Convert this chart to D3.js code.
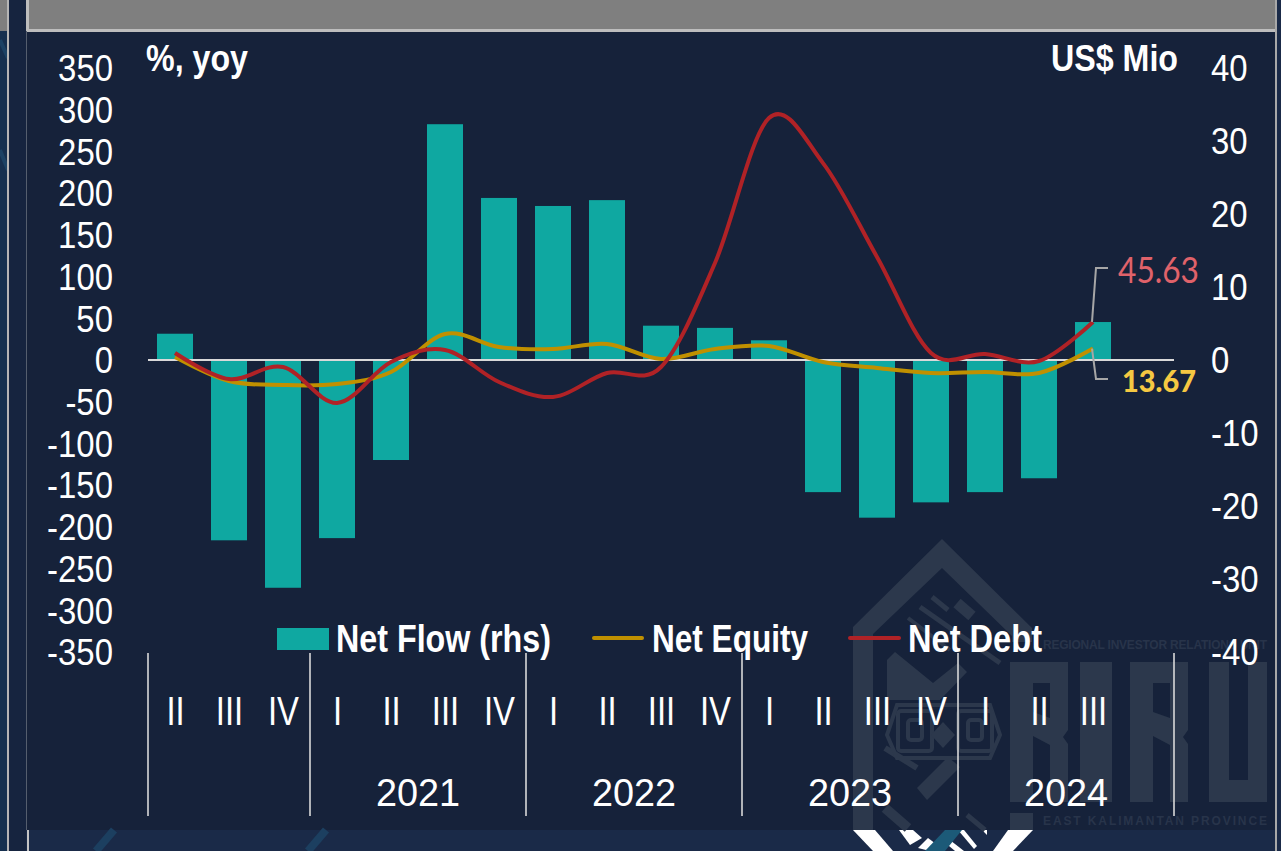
<!DOCTYPE html>
<html>
<head>
<meta charset="utf-8">
<script src="https://cdn.jsdelivr.net/npm/d3@7"></script>
<style>
html,body{margin:0;padding:0;background:#1a2a48;overflow:hidden}
svg{display:block}
text{font-family:"Liberation Sans",Arial,sans-serif;fill:#fff}
</style>
</head>
<body>
<svg id="c" width="1281" height="851"></svg>
<script>
const categories = ["II","III","IV","I","II","III","IV","I","II","III","IV","I","II","III","IV","I","II","III"];
const years = ["2021","2022","2023","2024"];
const yearEnds = [3,7,11,15,19];
const netFlow = [3.6,-24.7,-31.2,-24.4,-13.7,32.3,22.2,21.1,21.9,4.7,4.4,2.7,-18.1,-21.6,-19.5,-18.1,-16.2,5.2];
const netEquity = [3.6,-25.2,-30,-28.8,-14.4,31.2,15.6,13.2,19.2,1.2,13.2,16.8,-2.4,-9.6,-15.6,-14.4,-15.6,13.67];
const netDebt = [8.4,-22.8,-8.4,-51.5,-2.4,12,-26.4,-44.3,-15.6,-8.4,116.3,290,236,123.5,8.4,7.2,-1.2,45.63];
const leftTicks = [350,300,250,200,150,100,50,0,-50,-100,-150,-200,-250,-300,-350];
const rightTicks = [40,30,20,10,0,-10,-20,-30,-40];
const legendItems = ["Net Flow (rhs)","Net Equity","Net Debt"];

const svg = d3.select("#c");
function fit(sel, factor){
  sel.each(function(){
    const t = d3.select(this);
    t.attr("textLength", this.getComputedTextLength()*factor).attr("lengthAdjust","spacingAndGlyphs");
  });
  return sel;
}
function txt(g,x,y,s,size,weight,color,target,anchor){
  const t = g.append("text").attr("x",x).attr("y",y).text(s)
    .style("font-size",size+"px").style("font-weight",weight).style("fill",color)
    .attr("text-anchor",anchor||"start");
  if(target) t.attr("textLength",target).attr("lengthAdjust","spacingAndGlyphs");
  return t;
}

/* page frame */
const bg = svg.append("g");
bg.append("rect").attr("width",1281).attr("height",851).attr("fill","#1a2a48");
bg.append("rect").attr("x",0).attr("y",31).attr("width",8).attr("height",820).attr("fill","#16304f");
[[0,40,8,58],[0,150,8,170]].forEach(d=>bg.append("line").attr("x1",d[0]).attr("y1",d[1]).attr("x2",d[2]).attr("y2",d[3]).attr("stroke","#1c4264").attr("stroke-width",4));
bg.append("rect").attr("x",0).attr("y",0).attr("width",8).attr("height",31).attr("fill","#7f7f7f");
bg.append("rect").attr("x",7).attr("y",0).attr("width",2).attr("height",851).attr("fill","#b5b5b5");
bg.append("rect").attr("x",9).attr("y",0).attr("width",17).attr("height",851).attr("fill","#16243f");
bg.append("rect").attr("x",27).attr("y",31).attr("width",1248).attr("height",799).attr("fill","#16223a");
bg.append("rect").attr("x",26).attr("y",31).attr("width",1).attr("height",799).attr("fill","#555e6e");
bg.append("rect").attr("x",29).attr("y",0).attr("width",1246).attr("height",30).attr("fill","#7f7f7f");
bg.append("rect").attr("x",26).attr("y",0).attr("width",3).attr("height",31).attr("fill","#bdbdbd");
bg.append("rect").attr("x",27).attr("y",29).attr("width",1250).attr("height",3).attr("fill","#bdbdbd");
bg.append("rect").attr("x",1275).attr("y",0).attr("width",2).attr("height",851).attr("fill","#a8a8a8");
bg.append("rect").attr("x",27).attr("y",830).attr("width",2).attr("height",21).attr("fill","#c4c4c4");
[[96,851,114,830],[308,851,326,830]].forEach(d=>bg.append("line").attr("x1",d[0]).attr("y1",d[1]).attr("x2",d[2]).attr("y2",d[3]).attr("stroke","#1c3f60").attr("stroke-width",8));

/* white emblem fragment below the panel */
const emblem = bg.append("g").attr("fill","#fff");
bg.append("polygon").attr("points","925,851 945,830 962,830 945,851").attr("fill","#1c5a78");
["853,830 875,830 893,851 873,851","1033,830 1008,830 993,851 1013,851",
 "899,830 913,830 922,838 910,845","918,848 928,838 936,844 930,851",
 "942,840 946,837 964,851 955,851","958,830 964,830 977,846 974,849","982,830 987,830 987,835"]
 .forEach(p=>emblem.append("polygon").attr("points",p));

/* watermark */
const wm = svg.append("g");
const wc = "#2c384c";
wm.append("path").attr("fill",wc)
  .attr("d","M942,539 L1032,628 L1032,642 L1012,642 L1012,636 L942,568 L873,634 L873,830 L853,830 L853,627 Z");
wm.append("rect").attr("x",1010).attr("y",813).attr("width",23).attr("height",17).attr("fill",wc);
wm.append("polygon").attr("fill",wc).attr("points","887,660 895,652 933,683 958,663 967,672 940,700 887,700");
[[932,597,948,610,5],[920,607,1000,663,5],[908,618,950,650,4],[957,603,972,616,11],[885,808,908,828,10],[967,815,985,830,5],[885,748,917,768,6]]
 .forEach(d=>wm.append("line").attr("x1",d[0]).attr("y1",d[1]).attr("x2",d[2]).attr("y2",d[3]).attr("stroke",wc).attr("stroke-width",d[4]));
wm.append("polygon").attr("fill",wc).attr("points","917,788 927,800 960,767 948,757");
const orn = wm.append("g").attr("fill","none").attr("stroke",wc).attr("stroke-width",4);
orn.append("polygon").attr("points","887,735 897,705 990,705 1000,735 990,758 897,758");
[[898,711,34,40],[958,711,34,40],[908,720,14,20],[968,720,14,20]].forEach(d=>
  orn.append("rect").attr("x",d[0]).attr("y",d[1]).attr("width",d[2]).attr("height",d[3]).attr("rx",3));
wm.append("polygon").attr("fill",wc).attr("points","943,722 955,735 943,748 931,735");
const rGlyph = x0 => `M${x0},662 H${x0+58} V730 L${x0+53},737 L${x0+58},744 V802 H${x0+40} V745 L${x0+23},736 V802 H${x0} Z M${x0+23},683 V712 L${x0+40},718 V683 Z`;
wm.append("path").attr("fill",wc).attr("fill-rule","evenodd").attr("d",rGlyph(1010));
wm.append("path").attr("fill",wc).attr("fill-rule","evenodd").attr("d",rGlyph(1130));
wm.append("rect").attr("x",1080).attr("y",662).attr("width",32).attr("height",140).attr("fill",wc);
wm.append("path").attr("fill",wc).attr("d","M1209,662 H1229 V780 H1248 V662 H1267 V802 H1209 Z");
function spaced(x,y,s,size,width){
  const t = txt(wm,x,y,s,size,700,"#28344a");
  const ls = (width - t.node().getComputedTextLength())/(s.length-1);
  t.style("letter-spacing",ls+"px");
}
spaced(1043,649,"REGIONAL INVESTOR RELATIONS UNIT",12,224);
spaced(1043,825,"EAST KALIMANTAN PROVINCE",12,224);

/* scales */
const x = d3.scaleBand().domain(d3.range(categories.length)).range([148,1120]).paddingInner(1/3).paddingOuter(1/6);
const yL = d3.scaleLinear().domain([-350,350]).range([652,68]);
const yR = d3.scaleLinear().domain([-40,40]).range([652,68]);
const cx = i => x(i)+x.bandwidth()/2;
const edge = i => 148 + x.step()*i;

/* bars */
svg.append("g").selectAll("rect").data(netFlow).join("rect")
  .attr("x",(d,i)=>x(i)).attr("width",x.bandwidth())
  .attr("y",d=>Math.min(yR(d),yR(0))).attr("height",d=>Math.abs(yR(d)-yR(0)))
  .attr("fill","#0fa8a1");

/* zero line */
svg.append("line").attr("x1",edge(0)).attr("x2",edge(19)).attr("y1",yL(0)).attr("y2",yL(0))
  .attr("stroke","#d9d9d9").attr("stroke-width",2);

/* lines */
const line = d3.line().x((d,i)=>cx(i)).y(d=>yL(d)).curve(d3.curveCatmullRom.alpha(0));
svg.append("path").datum(netEquity).attr("d",line).attr("fill","none").attr("stroke","#c09000").attr("stroke-width",4);
svg.append("path").datum(netDebt).attr("d",line).attr("fill","none").attr("stroke","#b02226").attr("stroke-width",4);

/* axes */
const axL = svg.append("g").attr("transform","translate(115,1)").call(d3.axisLeft(yL).tickValues(leftTicks).tickSize(0).tickPadding(2).tickFormat(d=>String(d)));
const axR = svg.append("g").attr("transform","translate(1209,1)").call(d3.axisRight(yR).tickValues(rightTicks).tickSize(0).tickPadding(2).tickFormat(d=>String(d)));
axL.select(".domain").remove(); axR.select(".domain").remove();
[axL,axR].forEach(a=>{
  a.selectAll("text").style("font-size","37px").style("font-family",'"Liberation Sans"').style("fill","#fff");
  fit(a.selectAll("text"),0.89);
});

/* unit labels */
const lab = svg.append("g");
txt(lab,146,71,"%, yoy",36,700,"#fff",102);
txt(lab,1051,71,"US$ Mio",36,700,"#fff",127);

/* category axis */
const cat = svg.append("g");
[0].concat(yearEnds).forEach(i=>{
  cat.append("line").attr("x1",edge(i)).attr("x2",edge(i)).attr("y1",653).attr("y2",816)
    .attr("stroke","#d9d9d9").attr("stroke-width",1.6);
});
const qt = cat.selectAll("text.q").data(categories).join("text").attr("class","q")
  .attr("x",(d,i)=>cx(i)+0.5).attr("y",725).attr("text-anchor","middle")
  .style("font-size","41px").text(d=>d);
fit(qt,0.8);
const yr = cat.selectAll("text.y").data(years).join("text").attr("class","y")
  .attr("x",(d,i)=>(edge(yearEnds[i])+edge(yearEnds[i+1]))/2).attr("y",806).attr("text-anchor","middle")
  .style("font-size","39px").text(d=>d);
fit(yr,0.97);

/* legend */
const lg = svg.append("g");
lg.append("rect").attr("x",277).attr("y",628).attr("width",52).attr("height",22).attr("fill","#0fa8a1");
lg.append("line").attr("x1",594).attr("x2",642).attr("y1",638).attr("y2",638).attr("stroke","#c09000").attr("stroke-width",4).attr("stroke-linecap","round");
lg.append("line").attr("x1",850).attr("x2",899).attr("y1",638).attr("y2",638).attr("stroke","#b02226").attr("stroke-width",4).attr("stroke-linecap","round");
txt(lg,336,652,legendItems[0],38,700,"#fff",215);
txt(lg,652,652,legendItems[1],38,700,"#fff",156);
txt(lg,908,652,legendItems[2],38,700,"#fff",134);

/* end labels */
const n = categories.length-1;
const end = svg.append("g");
const lead = d3.line();
end.append("path").attr("d",lead([[cx(n)-1,yL(netDebt[n])],[1096,268],[1108,268]])).attr("fill","none").attr("stroke","#a6a6a6").attr("stroke-width",2);
end.append("path").attr("d",lead([[cx(n)-1,yL(netEquity[n])],[1096,379],[1108,379]])).attr("fill","none").attr("stroke","#a6a6a6").attr("stroke-width",2);
const ef = '"Lato"';
txt(end,1118,283,netDebt[n].toFixed(2),37,400,"#e0626a",81).style("font-family",ef);
txt(end,1122,392,netEquity[n].toFixed(2),30,900,"#f5c842",74).style("font-family",ef);
</script>
</body>
</html>
